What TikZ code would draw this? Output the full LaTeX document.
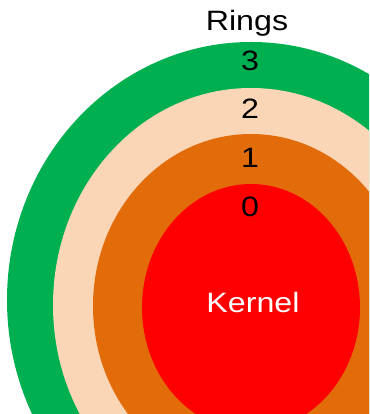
\documentclass[tikz,border=0pt]{standalone}
\usepackage{fontspec}
\setmainfont{Liberation Sans}[FakeStretch=1.15]
\usetikzlibrary{positioning}

\definecolor{ringgreen}{HTML}{00B050}
\definecolor{ringpeach}{HTML}{FAD5B6}
\definecolor{ringorange}{HTML}{E26B0A}
\definecolor{ringred}{HTML}{FF0000}

\begin{document}
\begin{tikzpicture}[x=1pt, y=1pt,
            greenring/.style={fill=ringgreen},
            peachring/.style={fill=ringpeach},
            orangering/.style={fill=ringorange},
            kernelring/.style={fill=ringred},
            ringlabel/.style={font=\fontsize{28}{28}\selectfont, anchor=base, inner sep=0pt},
            ]
            \useasboundingbox (0,0) rectangle (369,414);
            \clip (0,0) rectangle (369,414);

            \fill[greenring] (251,114) ellipse [x radius=244, y radius=258];
            \fill[peachring] (251,109) ellipse [x radius=198, y radius=217];
            \fill[orangering] (251,108) ellipse [x radius=158, y radius=172];
            \fill[kernelring] (251,106.5) ellipse [x radius=109, y radius=123.5];

            \node[ringlabel] (T) at (247,383) {Rings};
            \node[ringlabel] (R3) at (250,343.5) {3};
            \node[ringlabel] (R2) at (250,295.3) {2};
            \node[ringlabel] (R1) at (250,246.5) {1};
            \node[ringlabel] (R0) at (250,197.5) {0};
            \node[ringlabel, text=white] (K) at (253,101.5) {Kernel};
        \end{tikzpicture}
\end{document}
